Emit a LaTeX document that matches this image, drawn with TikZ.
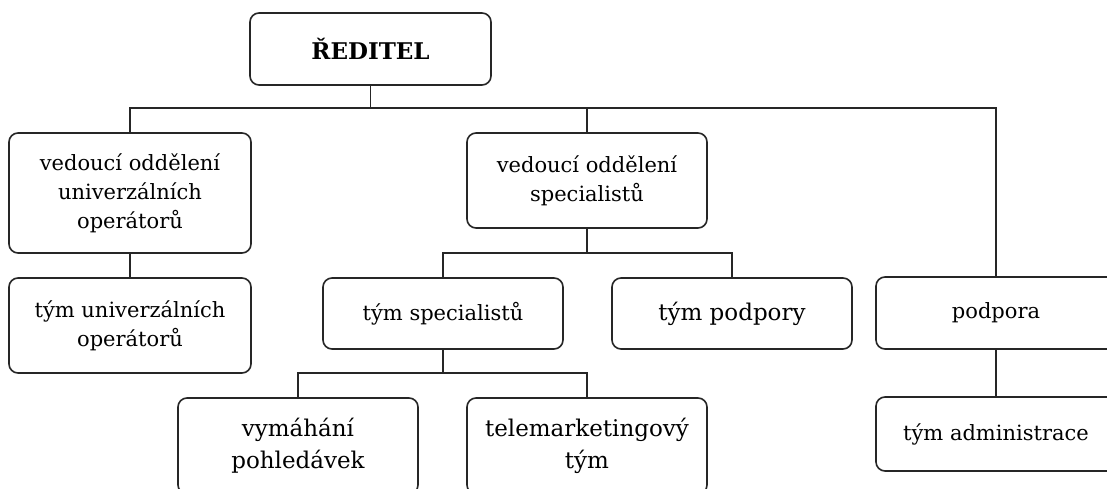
\documentclass[tikz,border=0pt]{standalone}
\usepackage{fontspec}
\setmainfont{DejaVu Serif}
\begin{document}
\begin{tikzpicture}[x=1pt,y=-1pt,
  orgbox/.style={draw=black!85, line width=1.6pt, rounded corners=9pt, align=center,
    inner sep=0pt, fill=white, font=\fontsize{21}{29}\selectfont},
  bigtxt/.style={font=\fontsize{23}{32}\selectfont},
  link/.style={draw=black!85, line width=1.5pt}]
\useasboundingbox (0,0) rectangle (1107,489);
\clip (0,0) rectangle (1107,489);
\fill[white] (0,0) rectangle (1107,489);
% boxes
\node[orgbox, minimum width=241pt, minimum height=72pt, font=\fontsize{23}{28}\selectfont\bfseries] (red) at (370.5,49) {ŘEDITEL};
\node[orgbox, minimum width=242pt, minimum height=120pt] (univ) at (130,193) {vedoucí oddělení\\univerzálních\\operátorů};
\node[orgbox, minimum width=240pt, minimum height=95pt] (spec) at (587,180.5) {vedoucí oddělení\\specialistů};
\node[orgbox, minimum width=242pt, minimum height=95pt] (tunv) at (130,325.5) {tým univerzálních\\operátorů};
\node[orgbox, minimum width=240pt, minimum height=71pt] (tspec) at (443,313.5) {tým specialistů};
\node[orgbox, bigtxt, minimum width=240pt, minimum height=71pt] (tpod) at (732,313.5) {tým podpory};
\node[orgbox, minimum width=240pt, minimum height=72pt] (podp) at (996,313) {podpora};
\node[orgbox, minimum width=240pt, minimum height=74pt] (tadm) at (996,434) {tým administrace};
\node[orgbox, bigtxt, minimum width=240pt, minimum height=96pt] (vym) at (298,446) {vymáhání\\pohledávek};
\node[orgbox, bigtxt, minimum width=240pt, minimum height=96pt] (tele) at (587,446) {telemarketingový\\tým};
% junctions
\coordinate (hub1) at (370.5,108);
\coordinate (hub2) at (587,253);
\coordinate (hub3) at (443,373);
% connectors
\draw[link] (red.south) -- (hub1);
\draw[link] (univ.north) -- (univ.north |- hub1) -- (podp.north |- hub1) -- (podp.north);
\draw[link] (spec.north) -- (spec.north |- hub1);
\draw[link] (univ.south) -- (tunv.north);
\draw[link] (spec.south) -- (hub2);
\draw[link] (tspec.north) -- (tspec.north |- hub2) -- (tpod.north |- hub2) -- (tpod.north);
\draw[link] (tspec.south) -- (hub3);
\draw[link] (vym.north) -- (vym.north |- hub3) -- (tele.north |- hub3) -- (tele.north);
\draw[link] (podp.south) -- (tadm.north);
\end{tikzpicture}
\end{document}
